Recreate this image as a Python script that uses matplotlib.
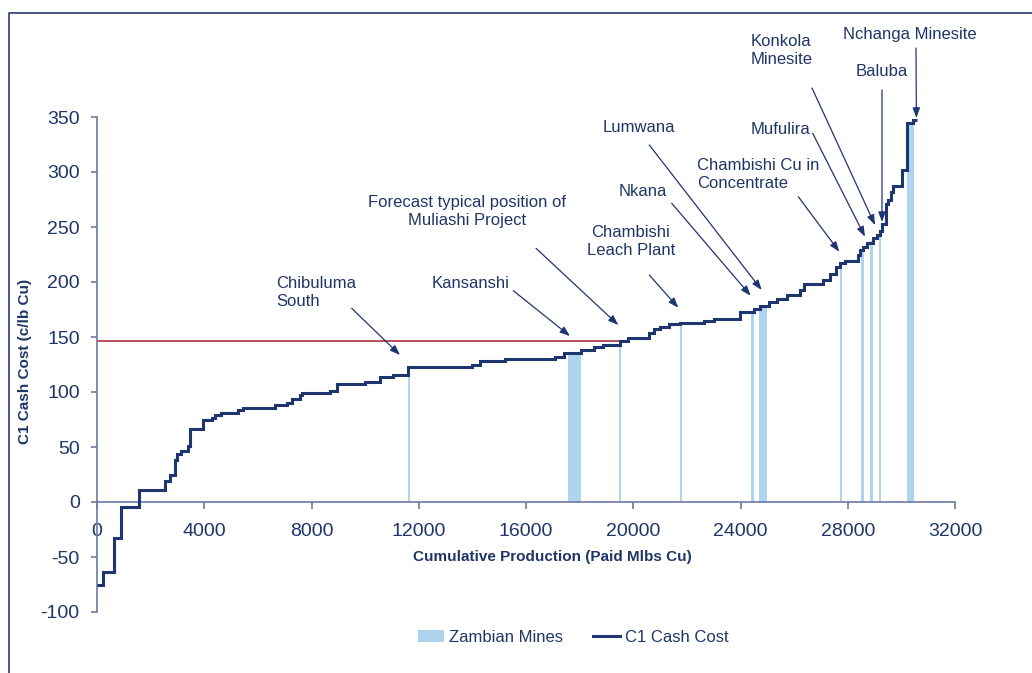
import matplotlib
matplotlib.use('Agg')
import matplotlib.pyplot as plt
from matplotlib.patches import Patch
from matplotlib.lines import Line2D

plt.rcParams['font.family'] = ['Liberation Sans', 'DejaVu Sans']
plt.rcParams['axes.unicode_minus'] = False

# cost curve: step edges (cumulative production) and C1 cash cost per step
edges = [0, 235, 647, 896, 1555, 2550, 2724, 2923, 2998, 3122, 3408, 3470,
         3943, 4279, 4403, 4615, 5273, 5436, 6642, 7078, 7288, 7575, 7637,
         8694, 8967, 10000, 10560, 11030, 11616, 13980, 14290, 15224, 17090,
         17420, 18050, 18520, 18890, 19515, 19790, 20570, 20760, 21000, 21320,
         21750, 22625, 23000, 23990, 24490, 24740, 25050, 25360, 25735, 26230,
         26350, 27088, 27338, 27562, 27711, 27897, 28394, 28457, 28580, 28729,
         28953, 29080, 29203, 29266, 29426, 29513, 29602, 29699, 30012, 30198,
         30445, 30572]
cost = [-75.5, -64, -32.7, -4.2, 11, 19.4, 24.5, 38, 44, 46, 51,
        66.7, 74.8, 76.7, 79.4, 81, 83.6, 85.2, 88, 90.3, 94, 97,
        99, 101, 107.5, 109.4, 113.3, 115.8, 122.4, 124.8, 128.5, 129.7,
        131.5, 135.2, 138.2, 140.6, 142.7, 146.6, 149.4, 154, 157, 159.5,
        161.8, 163, 164.8, 166.6, 172.4, 175.2, 178.2, 181.5, 184.3, 188,
        192.5, 198, 202, 207.5, 213.5, 217.6, 219, 224.5, 229, 232,
        235.7, 239.7, 242.7, 246.7, 252.7, 270.9, 274.5, 282, 287.3, 301.8,
        344.8, 347.3]

# Zambian mines highlighted on the curve
mine_names = ['Chibuluma South', 'Kansanshi', 'Muliashi', 'Chambishi Leach Plant',
              'Nkana', 'Lumwana', 'Chambishi Cu in Concentrate', 'Mufulira',
              'Konkola Minesite', 'Baluba', 'Nchanga Minesite']
mine_start = [11600, 17580, 19480, 21750, 24400, 24690, 27710, 28510, 28835, 29170, 30200]
mine_width = [60, 460, 80, 50, 90, 310, 60, 95, 95, 60, 260]
mine_cost = [122.4, 135.2, 146.6, 163, 172.4, 178.2, 217.6, 230, 237, 244, 345]

muliashi_cost = 146.4
muliashi_x = 19515

x_ticks = [0, 4000, 8000, 12000, 16000, 20000, 24000, 28000, 32000]
y_ticks = [-100, -50, 0, 50, 100, 150, 200, 250, 300, 350]

navy = '#1f3570'
txt = '#1f3566'
axis_col = '#6b7aa6'
bar_col = '#aed4f0'

W, H = 1032, 673
fig = plt.figure(figsize=(W / 100, H / 100), dpi=100)
ax = fig.add_axes([97 / W, 1 - 612 / H, 858 / W, 495 / H])


def fp(x, y):
    # figure pixel (from top-left) -> figure fraction
    return (x / W, 1 - y / H)


ax.bar(mine_start, mine_cost, width=mine_width, align='edge', color=bar_col,
       linewidth=0, zorder=1)
ax.stairs(cost, edges, baseline=None, color=navy, linewidth=2.2, zorder=3)
ax.plot([0, muliashi_x], [muliashi_cost, muliashi_cost], color='#a3202c',
        linewidth=1.1, zorder=2)

ax.set_xlim(0, 32000)
ax.set_ylim(-100, 350)
ax.set_xticks(x_ticks)
ax.set_yticks(y_ticks)
ax.spines['top'].set_visible(False)
ax.spines['right'].set_visible(False)
ax.spines['bottom'].set_position(('data', 0))
for s in ['left', 'bottom']:
    ax.spines[s].set_color(axis_col)
    ax.spines[s].set_linewidth(1.2)
ax.tick_params(axis='x', direction='out', length=5, width=1.2, color=axis_col,
               labelsize=14, labelcolor=txt, pad=10)
ax.tick_params(axis='y', direction='out', length=4.5, width=1.2, color=axis_col,
               labelsize=14, labelcolor=txt, pad=8)

fig.text(*fp(552, 557), 'Cumulative Production (Paid Mlbs Cu)', ha='center',
         va='center', fontsize=11, fontweight='bold', color=txt)
fig.text(*fp(25, 361), 'C1 Cash Cost (c/lb Cu)', ha='center', va='center',
         rotation=90, fontsize=11, fontweight='bold', color=txt)

# labels: text, text pos (px), alignment, arrow start (px), arrow tip (data)
labels = [
    ('Chibuluma\nSouth', (276, 293), 'left', (351.7, 308.3), (11301, 133.6)),
    ('Kansanshi', (432, 283), 'left', (513.3, 290.7), (17641, 150.9)),
    ('Forecast typical position of\nMuliashi Project', (467, 211), 'center',
     (536, 248.3), (19443, 160.9)),
    ('Chambishi\nLeach Plant', (631, 241), 'center', (649.3, 275), (21681, 176.6)),
    ('Nkana', (643, 192), 'center', (671.7, 203.3), (24380, 187.5)),
    ('Lumwana', (639, 127), 'center', (649.3, 145), (24791, 192.7)),
    ('Chambishi Cu in\nConcentrate', (697, 175), 'left', (798.3, 196.7), (27685, 227.5)),
    ('Mufulira', (780, 130), 'center', (812.7, 133.3), (28643, 241.2)),
    ('Konkola\nMinesite', (751, 50), 'left', (812, 88), (29016, 251.8)),
    ('Baluba', (882, 72), 'center', (882, 90), (29277, 254.5)),
    ('Nchanga Minesite', (910, 35), 'center', (916, 48), (30560, 349.1)),
]
for label, tpos, ha, start, tip in labels:
    fig.text(*fp(*tpos), label, ha=ha, va='center', fontsize=12, color=txt,
             linespacing=1.25, multialignment=ha)
    ax.annotate('', xy=tip, xycoords='data', xytext=fp(*start),
                textcoords='figure fraction',
                arrowprops=dict(arrowstyle='-|>,head_length=0.6,head_width=0.22',
                                color=navy, linewidth=0.9, shrinkA=0, shrinkB=0))

handles = [Patch(facecolor=bar_col, edgecolor='none', label='Zambian Mines'),
           Line2D([], [], color=navy, linewidth=2.2, label='C1 Cash Cost')]
leg = fig.legend(handles=handles, loc='center', bbox_to_anchor=fp(573, 637),
                 ncol=2, frameon=False, fontsize=12, handlelength=1.6,
                 handleheight=0.7, handletextpad=0.3, columnspacing=1.8)
for t in leg.get_texts():
    t.set_color(txt)

# outer frame (top and left edges)
fig.add_artist(Line2D([9 / W, 9 / W, 1], [0, 1 - 13 / H, 1 - 13 / H],
                      transform=fig.transFigure, color='#3a4a80', linewidth=1.3))

plt.savefig('out.png', dpi=100)
